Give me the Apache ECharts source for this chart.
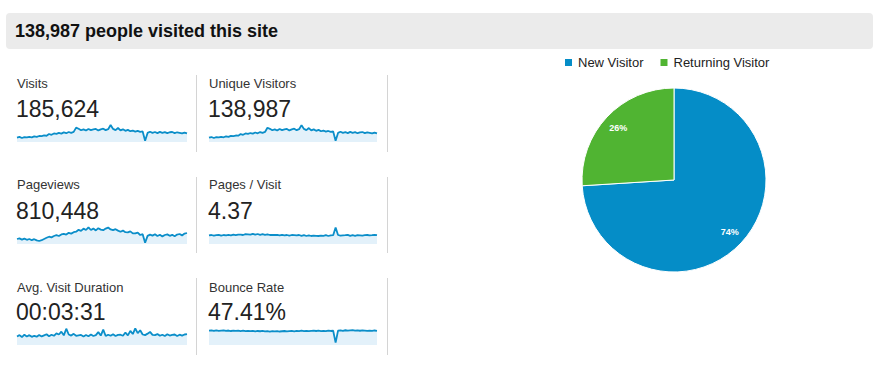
<!DOCTYPE html>
<html>
<head>
<meta charset="utf-8">
<script src="https://cdn.jsdelivr.net/npm/echarts@6/dist/echarts.min.js"></script>
<style>
html,body{margin:0;padding:0;background:#fff;}
#chart{width:881px;height:368px;}
</style>
</head>
<body>
<div id="chart"></div>
<script>
// ---- data ----
var headerText = '138,987 people visited this site';
var metricLabels = ['Visits', 'Unique Visitors', 'Pageviews', 'Pages / Visit', 'Avg. Visit Duration', 'Bounce Rate'];
var metricValues = ['185,624', '138,987', '810,448', '4.37', '00:03:31', '47.41%'];

var visits = [650,760,600,720,680,760,700,850,760,900,880,980,940,
  1200,1080,1280,1220,1360,1260,1440,1320,1500,1380,1520,
  2150,
  1980,1760,1900,1720,1950,1780,1880,1960,1740,1900,2000,1780,1920,
  2550,
  1960,1780,2100,1740,1900,1680,1820,1620,1720,1560,1660,
  1520,1580,180,
  1360,1540,1380,1500,1340,1520,1380,1480,1320,1460,1500,1340,1460,1380,1300,1420,1300];

var uniqueVisitors = [480,560,450,540,510,570,530,640,570,680,660,730,710,
  890,810,960,910,1010,940,1070,980,1120,1030,1130,
  1600,
  1480,1320,1420,1290,1460,1330,1410,1470,1300,1420,1500,1330,1440,
  1900,
  1470,1340,1570,1300,1420,1260,1360,1210,1290,1170,1240,
  1140,1180,130,
  1020,1150,1030,1120,1000,1140,1030,1110,990,1090,1120,1000,1090,1030,970,1060,970];

var pageviews = [2500,2800,2200,2700,2100,2500,1900,2400,1800,1500,1900,2500,3100,
  3650,3300,4000,4400,4000,4800,5100,4700,5600,5200,5900,
  6150,7100,6600,7700,7000,8350,7000,7700,6800,7900,7200,6900,7700,8200,7300,6900,7400,6700,
  6150,6700,5900,5800,6300,5300,5300,5700,4500,4900,
  650,
  4050,4700,4200,4900,4000,4600,3800,4500,4800,4100,4600,3900,4700,5000,4300,5200,5500];

var pagesPerVisit = [4.3,4.5,4.2,4.4,4.6,4.2,4.5,4.3,4.6,4.3,4.7,4.4,4.7,
  4.7,4.5,4.9,4.8,4.7,5.1,4.7,5.0,4.6,4.9,4.6,
  4.8,4.5,4.6,4.5,4.6,4.3,4.6,4.3,4.5,4.2,4.5,4.4,4.3,4.5,4.1,4.4,4.0,4.3,
  4.0,4.2,4.1,4.0,4.2,4.1,4.4,4.0,4.3,4.4,
  8.3,
  4.5,4.2,4.3,4.4,4.6,4.1,4.4,4.1,4.4,4.3,4.2,4.4,4.5,4.3,4.4,4.6,4.4];

var avgDuration = [200,230,185,240,200,230,190,215,195,235,200,225,250,
  205,240,215,270,245,310,225,380,245,220,260,
  215,225,235,200,235,205,245,210,230,300,220,360,210,240,215,250,210,235,
  240,215,290,225,330,255,390,275,345,245,
  230,
  265,305,235,230,255,215,240,210,250,220,235,245,210,240,220,245,255];

var bounceRate = [48.5,49.4,47.8,49.7,48.1,49.0,49.8,47.9,49.1,47.4,48.6,47.7,48.8,
  47.3,48.4,46.9,48.0,46.7,47.8,46.3,47.5,46.6,47.6,46.0,
  47.1,45.6,46.8,45.9,47.0,45.7,46.6,47.4,46.1,47.1,47.7,46.5,48.0,46.9,48.5,47.2,48.2,47.0,
  48.1,48.7,47.4,48.4,47.1,48.2,47.3,48.8,47.5,48.3,
  8,
  48.5,49.7,48.2,50.0,48.4,49.3,50.1,48.6,49.6,48.3,49.8,48.7,47.6,48.9,48.0,49.2,48.2];

var pieNames = ['New Visitor', 'Returning Visitor'];
var pieValues = [74, 26];

// ---- layout ----
var FONT = '"Liberation Sans", Arial, Helvetica, sans-serif';
var sparkSeries = [visits, uniqueVisitors, pageviews, pagesPerVisit, avgDuration, bounceRate];
var sparkMax = [2700, 2025, 9000, 9, 420, 61];
var colX = [17, 209];
var colW = [170, 168];
var rowLabelY = [83, 184, 287];
var rowValueY = [108.5, 210.5, 312];
var rowSparkTop = [124, 226, 327];
var sepRows = [[75, 152], [177, 253], [278, 355]];

var graphics = [
  {type:'rect', shape:{x:6, y:13, width:867, height:36, r:4}, style:{fill:'#ebebeb'}},
  {type:'text', x:15, y:31, style:{text:headerText, font:'bold 18px ' + FONT, fill:'#111', textVerticalAlign:'middle', textAlign:'left'}}
];
for (var r = 0; r < 3; r++) {
  for (var c = 0; c < 2; c++) {
    var k = r * 2 + c;
    graphics.push({type:'text', x:colX[c], y:rowLabelY[r], style:{text:metricLabels[k], font:'13px ' + FONT, fill:'#333', textVerticalAlign:'middle'}});
    graphics.push({type:'text', x:colX[c] - 1, y:rowValueY[r], style:{text:metricValues[k], font:'23px ' + FONT, fill:'#222', textVerticalAlign:'middle'}});
  }
  [196, 387].forEach(function (sx) {
    graphics.push({type:'line', shape:{x1:sx + 0.5, y1:sepRows[r][0], x2:sx + 0.5, y2:sepRows[r][1]}, style:{stroke:'#d4d4d4', lineWidth:1}});
  });
}

var grids = [], xAxes = [], yAxes = [], series = [];
for (var i = 0; i < 6; i++) {
  var rr = Math.floor(i / 2), cc = i % 2;
  grids.push({left:colX[cc], top:rowSparkTop[rr], width:colW[cc], height:18});
  xAxes.push({type:'category', gridIndex:i, show:false, boundaryGap:false, data:sparkSeries[i].map(function (_, j) { return j; })});
  yAxes.push({type:'value', gridIndex:i, show:false, min:0, max:sparkMax[i]});
  series.push({
    type:'line', xAxisIndex:i, yAxisIndex:i, data:sparkSeries[i], showSymbol:false, silent:true,
    lineStyle:{color:'#0b8ec9', width:1.8}, areaStyle:{color:'#e3f1fa', opacity:1},
    clip:false, animation:false
  });
}

var pieData = pieNames.map(function (n, j) { return {name:n, value:pieValues[j]}; });
var pieColors = ['#058dc7', '#50b432'];
series.push({
  type:'pie', center:[674, 180], radius:92, startAngle:90, clockwise:true, silent:true, animation:false,
  data:pieData, color:pieColors,
  itemStyle:{borderColor:'#fff', borderWidth:1},
  label:{show:false}, labelLine:{show:false}
});
series.push({
  type:'pie', center:[674, 180], radius:[55, 92], startAngle:90, clockwise:true, silent:true, animation:false,
  data:pieData, color:pieColors,
  itemStyle:{color:'rgba(0,0,0,0)'},
  label:{show:true, position:'inside', formatter:'{d}%', color:'#fff', fontWeight:'bold', fontSize:9, fontFamily:FONT},
  labelLine:{show:false}, legendHoverLink:false
});

var chart = echarts.init(document.getElementById('chart'), null, {renderer:'svg', width:881, height:368});
chart.setOption({
  backgroundColor:'#fff',
  animation:false,
  color:pieColors,
  graphic:graphics,
  legend:{
    data:pieNames, left:563, top:56, padding:0, itemWidth:9, itemHeight:9, itemGap:15, icon:'rect',
    textStyle:{fontFamily:FONT, fontSize:13, color:'#222'},
    selectedMode:false
  },
  grid:grids, xAxis:xAxes, yAxis:yAxes, series:series
});
</script>
</body>
</html>
